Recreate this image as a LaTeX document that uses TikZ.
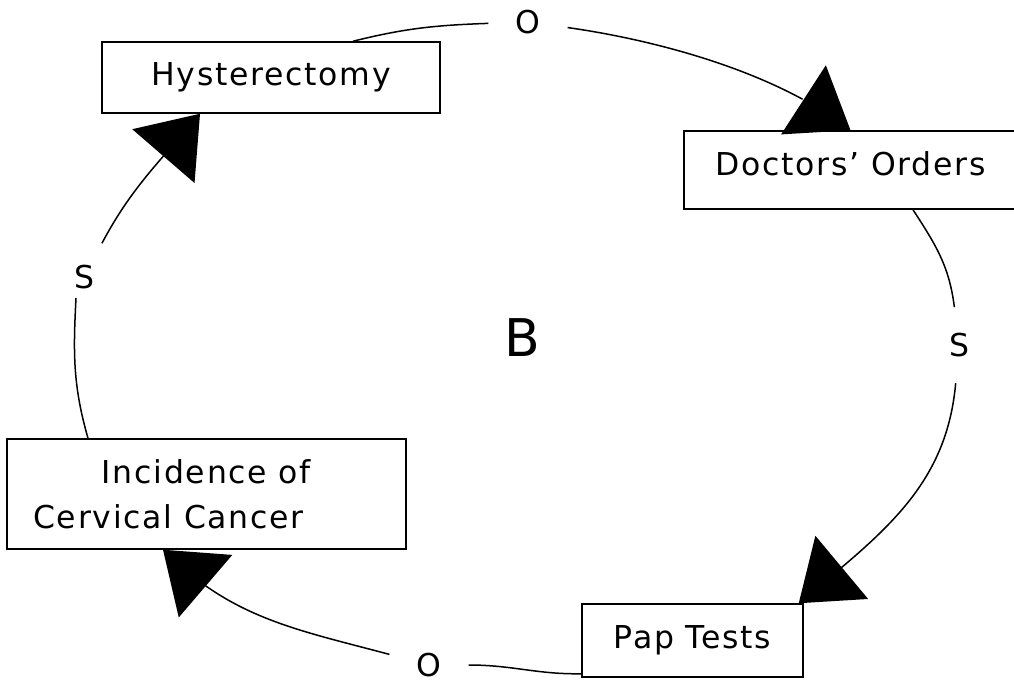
\documentclass[tikz,border=0pt]{standalone}
\usepackage{fontspec}
\setmainfont{DejaVu Sans}[LetterSpace=5.5]
\usetikzlibrary{arrows.meta,bending}

\begin{document}
\begin{tikzpicture}[x=1pt,y=1pt,
		box/.style={draw, line width=1.5pt, inner sep=0pt, font=\fontsize{31.5}{45}\selectfont},
		ssign/.style={circle, inner sep=0pt, minimum size=76pt, font=\fontsize{31.5}{38}\selectfont},
		osign/.style={inner xsep=27pt, inner ysep=4pt, font=\fontsize{31.5}{38}\selectfont},
		link/.style={line width=1.5pt},
		flow/.style={link, -{Triangle[length=56pt,width=82pt,flex]}}]
		\useasboundingbox (0,0) rectangle (1014,683);
		
		\node[box, minimum width=338pt, minimum height=71pt] (hyst) at (271,605.5) {Hysterectomy};
		\node[box, minimum width=333pt, minimum height=78pt, text depth=12pt] (doc) at (850.5,513) {Doctors’ Orders};
		\node[box, minimum width=221pt, minimum height=73pt] (pap) at (692.5,42.5) {Pap Tests};
		\node[box, align=center, minimum width=399pt, minimum height=110pt] (inc) at (206.5,189) {Incidence of\\Cervical Cancer\hspace*{76pt}};
		
		\node[osign] (o1) at (528,661) {O};
		\node[ssign] (s1) at (959,338) {S};
		\node[osign] (o2) at (429,18) {O};
		\node[ssign] (s2) at (84,406) {S};
		\node[font=\fontsize{52}{60}\selectfont] (loop) at (522,345) {B};
		
		\draw[link] ([xshift=82pt]hyst.north) to[out=14,in=182] (o1);
		\draw[flow] (o1) .. controls +(-8:120) and +(142:100) .. (doc.north);
		\draw[link] ([xshift=62.5pt]doc.south) to[out=-57,in=97] (s1);
		\draw[flow] (s1) to[out=-95,in=40] ([xshift=-5pt]pap.north east);
		\draw[link] ([yshift=4pt]pap.south west) to[out=181,in=0] (o2);
		\draw[flow] (o2) to[out=165,in=-45] ([xshift=-43.5pt]inc.south);
		\draw[link] ([xshift=-118.5pt]inc.north) to[out=106,in=-93] ([shift={(-8pt,17pt)}]s2.south);
		\draw[flow] (s2) to[out=62,in=230] ([xshift=-71pt]hyst.south);
	\end{tikzpicture}
\end{document}
